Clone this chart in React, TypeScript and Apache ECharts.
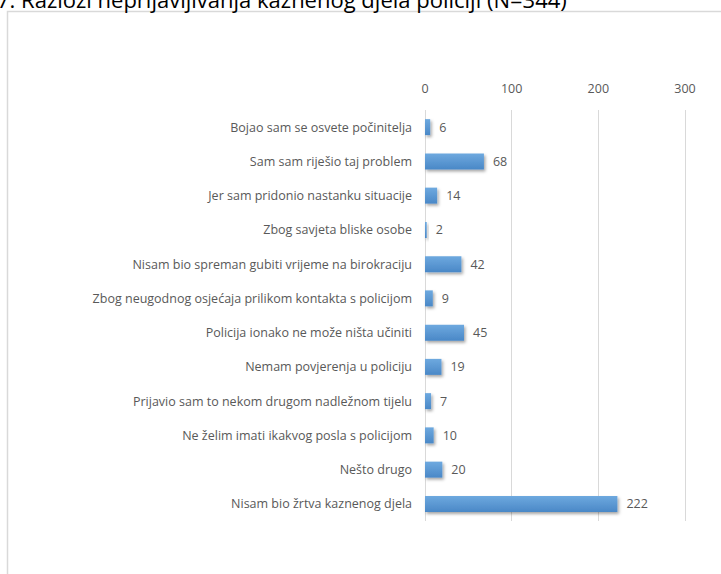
import React, { useEffect, useRef } from "react";
import * as echarts from "echarts";

const categories = [
  "Bojao sam se osvete počinitelja",
  "Sam sam riješio taj problem",
  "Jer sam pridonio nastanku situacije",
  "Zbog savjeta bliske osobe",
  "Nisam bio spreman gubiti vrijeme na birokraciju",
  "Zbog neugodnog osjećaja prilikom kontakta s policijom",
  "Policija ionako ne može ništa učiniti",
  "Nemam povjerenja u policiju",
  "Prijavio sam to nekom drugom nadležnom tijelu",
  "Ne želim imati ikakvog posla s policijom",
  "Nešto drugo",
  "Nisam bio žrtva kaznenog djela",
];
const values = [6, 68, 14, 2, 42, 9, 45, 19, 7, 10, 20, 222];
const titleText = "7. Razlozi neprijavljivanja kaznenog djela policiji (N=344)";

export default function App() {
  const ref = useRef<HTMLDivElement>(null);
  useEffect(() => {
    if (!ref.current) return;
    const chart = echarts.init(ref.current, undefined, { renderer: "svg" });
    chart.setOption({
      animation: false,
      backgroundColor: "#ffffff",
      graphic: [
        {
          type: "rect",
          shape: { x: 7.5, y: 11.5, width: 800, height: 700 },
          style: { fill: "none", stroke: "#d9d9d9", lineWidth: 1.5 },
          silent: true,
        },
        {
          type: "text",
          x: -3,
          y: -1,
          style: {
            text: titleText,
            font: "22px 'Open Sans'",
            fill: "#000000",
            verticalAlign: "middle",
          },
          silent: true,
        },
      ],
      grid: { left: 425, right: 36, top: 110, bottom: 53, containLabel: false },
      xAxis: {
        type: "value",
        position: "top",
        min: 0,
        max: 300,
        interval: 100,
        axisLine: { show: false },
        axisTick: { show: false },
        axisLabel: {
          color: "#595959",
          fontFamily: "Open Sans",
          fontSize: 12.5,
          margin: 15,
        },
        splitLine: { show: true, lineStyle: { color: "#d9d9d9", width: 1 } },
      },
      yAxis: {
        type: "category",
        data: categories,
        inverse: true,
        axisLine: { show: false },
        axisTick: { show: false },
        axisLabel: {
          color: "#595959",
          fontFamily: "Open Sans",
          fontSize: 12.5,
          margin: 13,
        },
      },
      series: [
        {
          type: "bar",
          data: values,
          barWidth: 16,
          itemStyle: {
            color: new echarts.graphic.LinearGradient(0, 0, 0, 1, [
              { offset: 0, color: "#6ea9df" },
              { offset: 1, color: "#4a88c7" },
            ]),
            shadowBlur: 3,
            shadowOffsetX: 1.5,
            shadowOffsetY: 2,
            shadowColor: "rgba(0,0,0,0.35)",
          },
          label: {
            show: true,
            position: "right",
            distance: 9,
            color: "#595959",
            fontFamily: "Open Sans",
            fontSize: 12.5,
          },
        },
      ],
    });
    return () => chart.dispose();
  }, []);
  return (
    <div
      ref={ref}
      style={{ position: "absolute", left: 0, top: 0, width: 721, height: 574 }}
    />
  );
}
